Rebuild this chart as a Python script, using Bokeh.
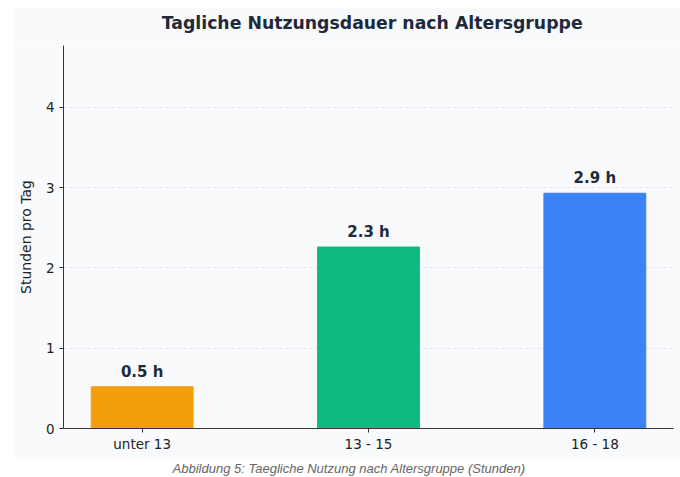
from bokeh.plotting import figure
from bokeh.models import ColumnDataSource, FixedTicker, Range1d, Label, LabelSet
from bokeh.layouts import column
from bokeh.embed import file_html
from bokeh.resources import INLINE
from bokeh.core.properties import value

categories = ["unter 13", "13 - 15", "16 - 18"]
hours = [0.52, 2.26, 2.93]
labels = ["0.5 h", "2.3 h", "2.9 h"]
colors = ["#f59e0b", "#10b981", "#3b82f6"]
y_ticks = [0, 1, 2, 3, 4]
title_text = "Tagliche Nutzungsdauer nach Altersgruppe"
caption_text = "Abbildung 5: Taegliche Nutzung nach Altersgruppe (Stunden)"

xpos = list(range(len(categories)))
src = ColumnDataSource(dict(x=xpos, top=hours, lab=labels, color=colors))

BG = "#f8fafc"
FONT = "DejaVu Sans"


def text_strip(width, height, fill, margin):
    f = figure(width=width, height=height, output_backend="svg", toolbar_location=None,
               x_range=Range1d(0, 1), y_range=Range1d(0, 1),
               x_axis_location=None, y_axis_location=None)
    f.grid.visible = False
    f.outline_line_color = None
    f.min_border = 0
    f.background_fill_color = fill
    f.border_fill_color = fill
    f.margin = margin
    return f


# title strip (top part of the light panel)
t = text_strip(666, 38, BG, (7, 0, 0, 14))
t.add_layout(Label(x=0.506, y=0.605, text=title_text, text_align="center",
                   text_baseline="middle", text_font=FONT, text_font_size="17.3px",
                   text_font_style="bold", text_color="#1e293b"))

p = figure(width=666, height=414, output_backend="svg", toolbar_location=None,
           x_range=Range1d(-0.3475, 2.3475), y_range=Range1d(0, 4.77))
p.margin = (0, 0, 0, 14)
p.background_fill_color = BG
p.border_fill_color = BG
p.outline_line_color = None
p.min_border_left = 45
p.min_border_right = 7
p.min_border_top = 0
p.min_border_bottom = 31

p.vbar(x="x", top="top", width=0.45, color="color", source=src)
p.add_layout(LabelSet(x="x", y="top", text="lab", source=src, text_align="center",
                      text_baseline="bottom", y_offset=6, text_font=value(FONT),
                      text_font_size="15px", text_font_style="bold", text_color="#1e293b"))

p.xaxis.ticker = FixedTicker(ticks=xpos)
p.xaxis.major_label_overrides = {i: c for i, c in enumerate(categories)}
p.yaxis.ticker = FixedTicker(ticks=y_ticks)
p.yaxis.axis_label = "Stunden pro Tag"

for ax in (p.xaxis, p.yaxis):
    ax.axis_line_color = "#333333"
    ax.major_tick_line_color = "#333333"
    ax.major_tick_out = 4
    ax.major_tick_in = 0
    ax.minor_tick_line_color = None
    ax.major_label_text_font = FONT
    ax.major_label_text_font_size = "13.5px"
    ax.major_label_text_color = "#222222"
    ax.axis_label_text_font = FONT
    ax.axis_label_text_font_size = "14px"
    ax.axis_label_text_font_style = "normal"
    ax.axis_label_text_color = "#222222"
p.yaxis.axis_label_standoff = 9
p.xaxis.major_label_standoff = 3

p.xgrid.grid_line_color = None
p.ygrid.grid_line_color = "#dfe3e8"
p.ygrid.grid_line_dash = "3 3"

cap = text_strip(680, 17, "white", (0, 0, 0, 0))
cap.add_layout(Label(x=0.480, y=0.5, text=caption_text,
                     text_align="center", text_baseline="middle", text_font="Liberation Sans",
                     text_font_size="13px", text_font_style="italic", text_color="#666666"))

layout = column(t, p, cap, spacing=0)
open("out.html", "w").write(file_html(layout, INLINE))
